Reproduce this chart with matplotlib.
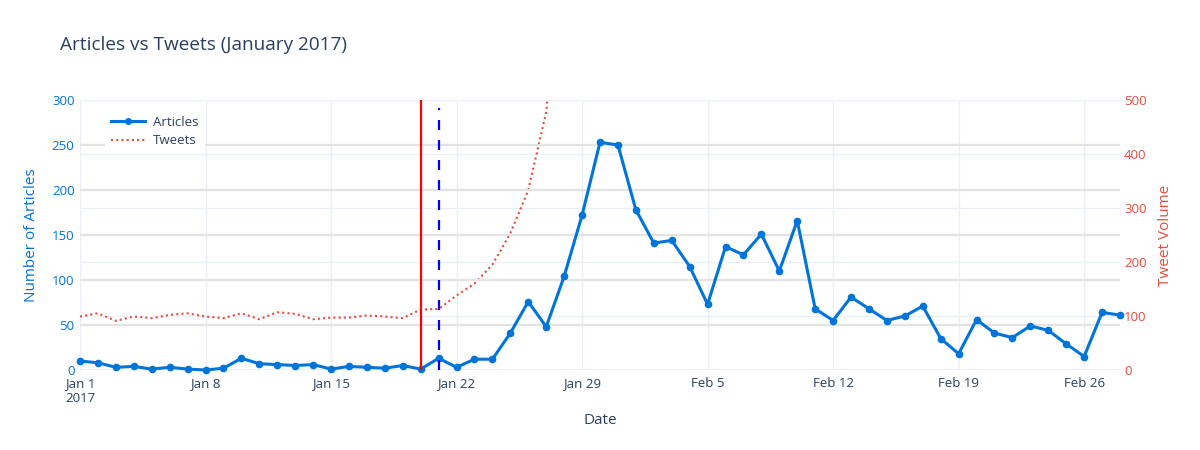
import matplotlib
matplotlib.use("Agg")
import matplotlib.pyplot as plt
import matplotlib.dates as mdates
from matplotlib.lines import Line2D
import pandas as pd

# ---------------- data ----------------
article_dates = pd.date_range("2017-01-01", "2017-02-28", freq="D")
articles = [10, 8, 3, 4, 1, 3, 1, 0, 2, 13,
            7, 6, 5, 6, 1, 4, 3, 2, 5, 1,
            13, 3, 12, 12, 41, 76, 48, 104, 172, 253,
            250, 178, 141, 144, 115, 73, 137, 128, 151, 110,
            166, 68, 55, 81, 68, 55, 60, 71, 35, 18,
            56, 41, 36, 49, 44, 29, 15, 64, 61]

tweet_dates = pd.date_range("2017-01-01", "2017-01-31", freq="D")
tweets = [99, 105, 91, 99, 96, 102, 105, 99, 96, 105,
          94, 107, 104, 94, 97, 97, 101, 99, 96, 112,
          113, 138, 160, 195, 253, 333, 478, 800, 1150, 1500, 1800]

xtick_dates = pd.date_range("2017-01-01", "2017-02-26", freq="7D")
xtick_labels = ["Jan 1\n2017", "Jan 8", "Jan 15", "Jan 22", "Jan 29",
                "Feb 5", "Feb 12", "Feb 19", "Feb 26"]
left_ticks = [0, 50, 100, 150, 200, 250, 300]
right_ticks = [0, 100, 200, 300, 400, 500]
event_solid = pd.Timestamp("2017-01-20")
event_dashed = pd.Timestamp("2017-01-21")

# ---------------- style ----------------
plt.rcParams['font.family'] = ['Open Sans', 'DejaVu Sans']
BLUE = "#0074D9"
RED = "#E74C3C"
TXT = "#2a3f5f"

fig = plt.figure(figsize=(12, 4.5), dpi=100)
rect = [80/1200, 1-370/450, 1040/1200, 270/450]

# tweets axis (behind)
ax2 = fig.add_axes(rect)
ax2.yaxis.tick_right()
ax2.yaxis.set_label_position("right")
ax2.set_facecolor("white")
ax2.plot(tweet_dates, tweets, color=RED, lw=1.5, linestyle=(0, (1, 1.5)),
         dash_capstyle="butt", zorder=3)
ax2.set_ylim(0, 500)
ax2.set_yticks(right_ticks)
ax2.tick_params(axis='y', colors=RED, labelsize=9.5, length=0, pad=3)
ax2.set_ylabel("Tweet Volume", color=RED, fontsize=11, labelpad=8)
ax2.grid(axis='y', color="#EBF0F8", lw=1)
ax2.grid(axis='x', color="#EBF0F8", lw=1)
ax2.set_axisbelow(True)

# articles axis (front)
ax1 = fig.add_axes(rect, sharex=ax2)
ax1.patch.set_alpha(0)
ax1.plot(article_dates, articles, color=BLUE, lw=2.2, marker='o', ms=4.5,
         zorder=4, clip_on=False)
ax1.set_ylim(0, 300)
ax1.set_yticks(left_ticks)
ax1.tick_params(axis='y', colors=BLUE, labelsize=9.5, length=0, pad=4)
ax1.set_ylabel("Number of Articles", color=BLUE, fontsize=11, labelpad=9)
for v in left_ticks[1:-1]:
    ax1.axhline(v, color="#E3E3E3", lw=1.6, zorder=1)
ax1.axhline(0, color="#EBF0F8", lw=2, zorder=1)

ax1.axvline(event_solid, color="red", lw=1.6, zorder=5)
ax1.axvline(event_dashed, ymax=0.97, color="blue", lw=1.6,
            linestyle=(0, (4.5, 4.5)), zorder=5)

ax1.set_xlim(article_dates[0], article_dates[-1])
ax1.set_xticks(xtick_dates)
ax1.set_xticklabels(xtick_labels, ha='center', multialignment='left')
ax1.tick_params(axis='x', colors=TXT, labelsize=9.5, length=0, pad=5)
ax1.set_xlabel("Date", color=TXT, fontsize=11, labelpad=6)
ax2.tick_params(axis='x', labelbottom=False, length=0)

for ax in (ax1, ax2):
    for s in ax.spines.values():
        s.set_visible(False)

# legend
handles = [Line2D([], [], color=BLUE, lw=2.2, marker='o', ms=4),
           Line2D([], [], color=RED, lw=1.5, linestyle=(0, (1, 1.5)))]
leg = ax1.legend(handles, ["Articles", "Tweets"], loc='upper left',
                 bbox_to_anchor=(0.018, 0.985), frameon=True, fontsize=9.5,
                 handlelength=2.6, labelcolor=TXT, borderpad=0.4,
                 handletextpad=0.6, labelspacing=0.4)
leg.get_frame().set_facecolor("white")
leg.get_frame().set_edgecolor("white")
leg.get_frame().set_alpha(1)
leg.get_frame().set_boxstyle("square", pad=0.0)
leg.set_zorder(6)

fig.text(60/1200, 1-45/450, "Articles vs Tweets (January 2017)", color=TXT,
         fontsize=13.7, va='center', ha='left')

fig.savefig("out.png", dpi=100, facecolor="white")
